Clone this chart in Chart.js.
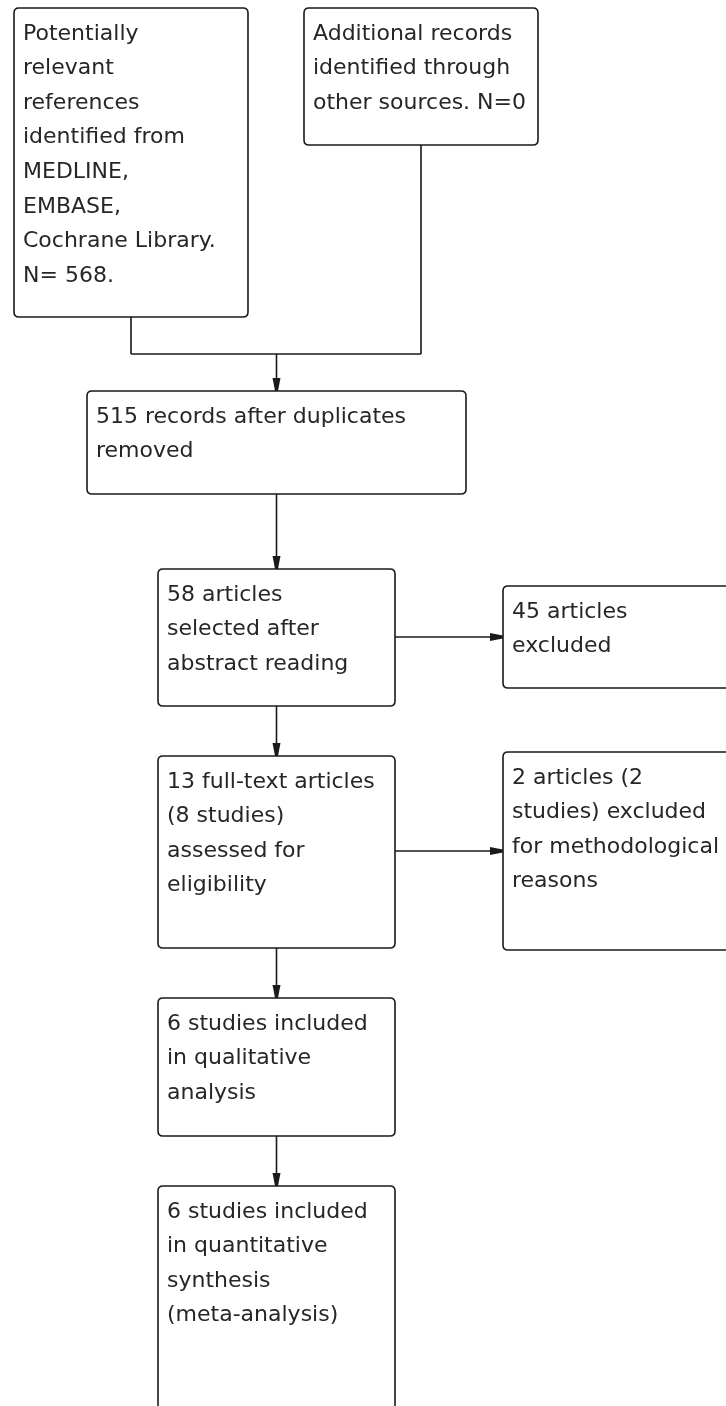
<!DOCTYPE html>
<html><head><meta charset="utf-8">
<script src="https://cdn.jsdelivr.net/npm/chart.js@4.4.0/dist/chart.umd.min.js"></script>
<style>html,body{margin:0;padding:0;background:#fff;overflow:hidden}#wrap{width:726px;height:1406px;position:relative}</style>
</head><body><div id="wrap"><canvas id="c"></canvas></div>
<script>
// ---- data ----
const stepNames = ["Identified (databases)","Identified (other sources)","After duplicates removed","Selected after abstract","Excluded after abstract","Full-text assessed","Excluded (methodology)","Qualitative analysis","Quantitative synthesis"];
const stepCounts = [568, 0, 515, 58, 45, 13, 2, 6, 6];
const stepText = [
  ["Potentially","relevant","references","identified from","MEDLINE,","EMBASE,","Cochrane Library.","N= 568."],
  ["Additional records","identified through","other sources. N=0"],
  ["515 records after duplicates","removed"],
  ["58 articles","selected after","abstract reading"],
  ["45 articles","excluded"],
  ["13 full-text articles","(8 studies)","assessed for","eligibility"],
  ["2 articles (2","studies) excluded","for methodological","reasons"],
  ["6 studies included","in qualitative","analysis"],
  ["6 studies included","in quantitative","synthesis","(meta-analysis)"]
];
const mergeLinks = [[0,2],[1,2]];
const downLinks = [[2,3],[3,5],[5,7],[7,8]];
const sideLinks = [[3,4],[5,6]];

// ---- layout (in scale units) ----
const boxLayout = [
  {x0:14, x1:248, y0:8,   y1:317},
  {x0:304,x1:538, y0:8,   y1:145},
  {x0:87, x1:466, y0:391, y1:494},
  {x0:158,x1:395, y0:569, y1:706},
  {x0:503,x1:760, y0:586, y1:688},
  {x0:158,x1:395, y0:756, y1:948},
  {x0:503,x1:760, y0:752, y1:950},
  {x0:158,x1:395, y0:998, y1:1136},
  {x0:158,x1:395, y0:1186,y1:1440}
];
const mergeY = 354;
const sideY = [637, 851];
const style = {line:'#1a1a1a', text:'#262626', font:'22px "DejaVu Sans"', lw:1.6, radius:5, padX:9, firstBase:31.5, pitch:34.6};

const centers = boxLayout.map((b,i)=>({x:(b.x0+Math.min(b.x1,726))/2, y:(b.y0+Math.min(b.y1,1406))/2, n:stepCounts[i]}));

function rrect(ctx,x0,y0,x1,y1,r){
  ctx.beginPath();
  ctx.moveTo(x0+r,y0);
  ctx.lineTo(x1-r,y0); ctx.quadraticCurveTo(x1,y0,x1,y0+r);
  ctx.lineTo(x1,y1-r); ctx.quadraticCurveTo(x1,y1,x1-r,y1);
  ctx.lineTo(x0+r,y1); ctx.quadraticCurveTo(x0,y1,x0,y1-r);
  ctx.lineTo(x0,y0+r); ctx.quadraticCurveTo(x0,y0,x0+r,y0);
  ctx.closePath();
}
function arrowDown(ctx,x,tip){
  ctx.beginPath();
  ctx.moveTo(x-4,tip-13); ctx.lineTo(x+4,tip-13); ctx.lineTo(x+3,tip-8);
  ctx.lineTo(x+1.5,tip); ctx.lineTo(x-1.5,tip); ctx.lineTo(x-3,tip-8); ctx.closePath(); ctx.fill();
}
function arrowRight(ctx,tip,y){
  ctx.beginPath();
  ctx.moveTo(tip-13,y-4); ctx.lineTo(tip-13,y+4); ctx.lineTo(tip-8,y+3);
  ctx.lineTo(tip,y+1.5); ctx.lineTo(tip,y-1.5); ctx.lineTo(tip-8,y-3); ctx.closePath(); ctx.fill();
}

const flowPlugin = {
  id:'flow',
  afterDatasetsDraw(chart){
    const ctx = chart.ctx, sx = chart.scales.x, sy = chart.scales.y;
    const X = v=>sx.getPixelForValue(v), Y = v=>sy.getPixelForValue(v);
    ctx.save();
    ctx.strokeStyle = style.line; ctx.fillStyle = style.line; ctx.lineWidth = style.lw;
    boxLayout.forEach(b=>{ rrect(ctx,X(b.x0),Y(b.y0),X(b.x1),Y(b.y1),style.radius); ctx.stroke(); });
    const tgt = boxLayout[mergeLinks[0][1]];
    const tx = (tgt.x0+tgt.x1)/2;
    const xs = mergeLinks.map(l=>{const b=boxLayout[l[0]]; return (b.x0+b.x1)/2;});
    ctx.beginPath();
    mergeLinks.forEach((l,i)=>{const b=boxLayout[l[0]]; ctx.moveTo(X(xs[i]),Y(b.y1)); ctx.lineTo(X(xs[i]),Y(mergeY));});
    ctx.moveTo(X(Math.min(...xs)),Y(mergeY)); ctx.lineTo(X(Math.max(...xs)),Y(mergeY));
    ctx.moveTo(X(tx),Y(mergeY)); ctx.lineTo(X(tx),Y(tgt.y0));
    ctx.stroke();
    arrowDown(ctx,X(tx),Y(tgt.y0));
    downLinks.forEach(([a,b])=>{
      const A=boxLayout[a], B=boxLayout[b];
      const x=(B.x0+B.x1)/2;
      ctx.beginPath(); ctx.moveTo(X(x),Y(A.y1)); ctx.lineTo(X(x),Y(B.y0)); ctx.stroke();
      arrowDown(ctx,X(x),Y(B.y0));
    });
    sideLinks.forEach(([a,b],i)=>{
      const A=boxLayout[a], B=boxLayout[b];
      ctx.beginPath(); ctx.moveTo(X(A.x1),Y(sideY[i])); ctx.lineTo(X(B.x0),Y(sideY[i])); ctx.stroke();
      arrowRight(ctx,X(B.x0),Y(sideY[i]));
    });
    ctx.fillStyle = style.text; ctx.font = style.font; ctx.textBaseline='alphabetic'; ctx.textAlign='left';
    stepText.forEach((lines,i)=>{
      const b=boxLayout[i];
      lines.forEach((t,j)=>ctx.fillText(t, X(b.x0+style.padX), Y(b.y0+style.firstBase+j*style.pitch)));
    });
    ctx.restore();
  }
};

new Chart(document.getElementById('c'),{
  type:'scatter',
  data:{datasets:[{label:'Records', data:centers, pointRadius:0, showLine:false}]},
  options:{
    responsive:true, maintainAspectRatio:false, animation:false,
    layout:{padding:0},
    plugins:{legend:{display:false}, tooltip:{enabled:false}},
    scales:{
      x:{type:'linear', min:0, max:726, display:false},
      y:{type:'linear', min:0, max:1406, reverse:true, display:false}
    }
  },
  plugins:[flowPlugin]
});
</script></body></html>
